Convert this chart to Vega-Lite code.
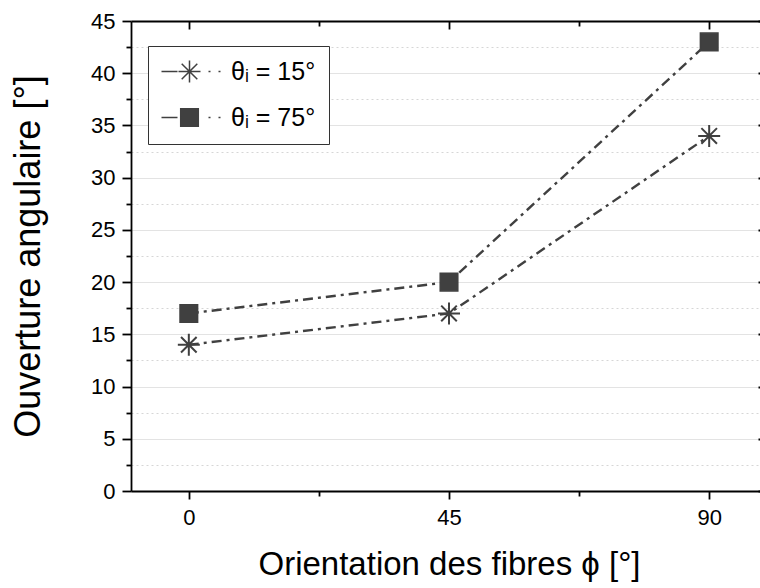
{
  "$schema": "https://vega.github.io/schema/vega-lite/v6.json",
  "width": 636,
  "height": 470,
  "autosize": {"type": "none"},
  "padding": {"left": 131, "top": 21, "right": 0, "bottom": 97},
  "background": "white",
  "config": {
    "view": {"stroke": null},
    "font": "Liberation Sans",
    "axis": {
      "labelFont": "Liberation Sans",
      "titleFont": "Liberation Sans",
      "labelColor": "#000000",
      "titleColor": "#000000",
      "domainColor": "#000000",
      "tickColor": "#000000",
      "domainWidth": 1.8,
      "tickWidth": 1.8,
      "labelFontSize": 22,
      "titleFontSize": 33,
      "titleFontWeight": "normal"
    }
  },
  "data": {
    "values": [
      {"phi": 0, "ouverture": 14, "serie": "θᵢ = 15°"},
      {"phi": 45, "ouverture": 17, "serie": "θᵢ = 15°"},
      {"phi": 90, "ouverture": 34, "serie": "θᵢ = 15°"},
      {"phi": 0, "ouverture": 17, "serie": "θᵢ = 75°"},
      {"phi": 45, "ouverture": 20, "serie": "θᵢ = 75°"},
      {"phi": 90, "ouverture": 43, "serie": "θᵢ = 75°"}
    ]
  },
  "layer": [
    {
      "mark": {"type": "line", "stroke": "#404040", "strokeWidth": 2.4, "strokeDash": [10, 5, 3, 5]},
      "encoding": {
        "x": {
          "field": "phi", "type": "quantitative",
          "scale": {"domain": [-10, 100], "nice": false, "zero": false},
          "axis": {"orient": "bottom", "values": [0, 45, 90], "tickSize": 8, "labelPadding": 8, "grid": false,
                   "title": "Orientation des fibres ϕ [°]", "titlePadding": 20}
        },
        "y": {
          "field": "ouverture", "type": "quantitative",
          "scale": {"domain": [0, 45], "nice": false},
          "axis": {"orient": "left", "values": [0, 5, 10, 15, 20, 25, 30, 35, 40, 45], "tickSize": 9, "labelPadding": 7,
                   "grid": true, "gridColor": "#e3e3e3", "gridWidth": 1.2,
                   "title": "Ouverture angulaire [°]", "titleFontSize": 36, "titlePadding": 43}
        },
        "detail": {"field": "serie"}
      }
    },
    {
      "mark": {"type": "point", "size": 400, "strokeWidth": 2, "stroke": "#404040", "opacity": 0},
      "encoding": {
        "x": {
          "field": "phi", "type": "quantitative",
          "axis": {"orient": "bottom", "values": [22.5, 67.5], "tickSize": 5, "labels": false, "domain": false, "grid": false, "title": null}
        },
        "y": {
          "field": "ouverture", "type": "quantitative",
          "axis": {"orient": "left", "values": [2.5, 7.5, 12.5, 17.5, 22.5, 27.5, 32.5, 37.5, 42.5], "tickSize": 5, "labels": false, "domain": false,
                   "grid": true, "gridColor": "#d6d6d6", "gridDash": [2, 3], "gridWidth": 1, "title": null}
        },
        "shape": {
          "field": "serie", "type": "nominal",
          "scale": {"range": [
            "M-2.8,0L-1.2,0M-1.1,0L1.1,0M0,-1.1L0,1.1M-0.78,-0.78L0.78,0.78M-0.78,0.78L0.78,-0.78M1.9,0L2.1,0M2.9,0L3.1,0",
            "M-2.8,0L-1.2,0M-0.88,-0.88L0.88,-0.88L0.88,0.88L-0.88,0.88ZM1.9,0L2.1,0M2.9,0L3.1,0"
          ]},
          "legend": {
            "title": null,
            "orient": "none",
            "legendX": 17,
            "legendY": 25,
            "direction": "vertical",
            "fillColor": "white",
            "strokeColor": "#333333",
            "padding": 13,
            "labelFont": "Liberation Sans",
            "labelFontSize": 25,
            "labelColor": "#000000",
            "symbolOffset": 16,
            "labelOffset": 29,
            "rowPadding": 19,
            "symbolSize": 400,
            "symbolFillColor": "#404040",
            "encode": {
              "symbols": {
                "stroke": {"value": "#404040"},
                "strokeWidth": {"value": 2},
                "opacity": {"value": 1},
                "fillOpacity": {"value": 1}
              }
            }
          }
        },
        "fill": {
          "field": "serie", "type": "nominal",
          "scale": {"range": ["transparent", "#404040"]},
          "legend": null
        }
      }
    },
    {
      "mark": {"type": "point", "opacity": 0},
      "encoding": {
        "x": {
          "field": "phi", "type": "quantitative",
          "axis": {"orient": "top", "values": [0, 45, 90], "tickSize": -8, "labels": false, "domain": true, "grid": false, "title": null}
        },
        "y": {
          "field": "ouverture", "type": "quantitative",
          "axis": {"orient": "right", "values": [0, 5, 10, 15, 20, 25, 30, 35, 40, 45], "tickSize": -9, "labels": false, "domain": true, "grid": false, "title": null}
        }
      }
    },
    {
      "mark": {"type": "point", "opacity": 0},
      "encoding": {
        "x": {
          "field": "phi", "type": "quantitative",
          "axis": {"orient": "top", "values": [22.5, 67.5], "tickSize": -5, "labels": false, "domain": false, "grid": false, "title": null}
        },
        "y": {
          "field": "ouverture", "type": "quantitative",
          "axis": {"orient": "right", "values": [2.5, 7.5, 12.5, 17.5, 22.5, 27.5, 32.5, 37.5, 42.5], "tickSize": -5, "labels": false, "domain": false, "grid": false, "title": null}
        }
      }
    },
    {
      "transform": [{"filter": "datum.serie == 'θᵢ = 15°'"}],
      "mark": {"type": "point", "size": 400, "strokeWidth": 2, "stroke": "#404040", "filled": false, "opacity": 1,
               "shape": "M-1.1,0L1.1,0M0,-1.1L0,1.1M-0.78,-0.78L0.78,0.78M-0.78,0.78L0.78,-0.78"},
      "encoding": {
        "x": {"field": "phi", "type": "quantitative", "axis": null},
        "y": {"field": "ouverture", "type": "quantitative", "axis": null}
      }
    },
    {
      "transform": [{"filter": "datum.serie == 'θᵢ = 75°'"}],
      "mark": {"type": "point", "size": 400, "strokeWidth": 1.5, "stroke": "#404040", "fill": "#404040", "filled": true, "opacity": 1,
               "shape": "M-0.88,-0.88L0.88,-0.88L0.88,0.88L-0.88,0.88Z"},
      "encoding": {
        "x": {"field": "phi", "type": "quantitative", "axis": null},
        "y": {"field": "ouverture", "type": "quantitative", "axis": null}
      }
    }
  ],
  "resolve": {"axis": {"x": "independent", "y": "independent"}}
}
